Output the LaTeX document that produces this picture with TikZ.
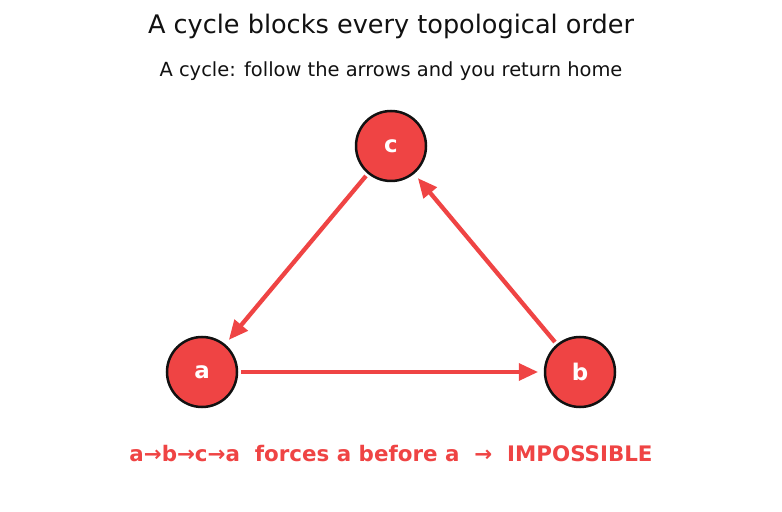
\documentclass[tikz,border=0pt]{standalone}
\usepackage{fontspec}
\setmainfont{DejaVu Sans}
\usepackage{xcolor}
\usetikzlibrary{arrows.meta}

\definecolor{cycred}{HTML}{EF4444}
\definecolor{inkdark}{HTML}{111111}

\begin{document}
\begin{tikzpicture}[
  x=0.72pt, y=-0.72pt,
  vertex/.style={circle, draw=inkdark, line width=1.8pt, fill=cycred,
                 minimum size=50.4pt, inner sep=0pt, text=white,
                 font=\fontsize{16.5}{19}\selectfont\bfseries},
  edge/.style={cycred, line width=3.1pt, shorten <=2pt, shorten >=4pt,
               -{Triangle[length=14pt, width=12pt]}},
]
  \useasboundingbox (0,0) rectangle (782,512);

  % ── titles ──
  \node[inkdark, font=\fontsize{18.4}{22}\selectfont] (title) at (391,26)
    {A cycle blocks every topological order};
  \node[inkdark, font=\fontsize{14}{17}\selectfont] (subtitle) at (391,71)
    {A cycle: follow the arrows and you return home};

  % ── vertices ──
  \node[vertex] (c) at (391,146) {c};
  \node[vertex] (a) at (202,372) {a};
  \node[vertex] (b) at (580,372) {b};

  % ── cycle edges ──
  \draw[edge] (a) -- (b);
  \draw[edge] (b) -- (c);
  \draw[edge] (c) -- (a);

  % ── verdict ──
  \node[cycred, font=\fontsize{15.4}{18}\selectfont\bfseries] (verdict) at (391,454)
    {a→b→c→a\ \ forces a before a\ \ →\ \ IMPOSSIBLE};
\end{tikzpicture}
\end{document}
